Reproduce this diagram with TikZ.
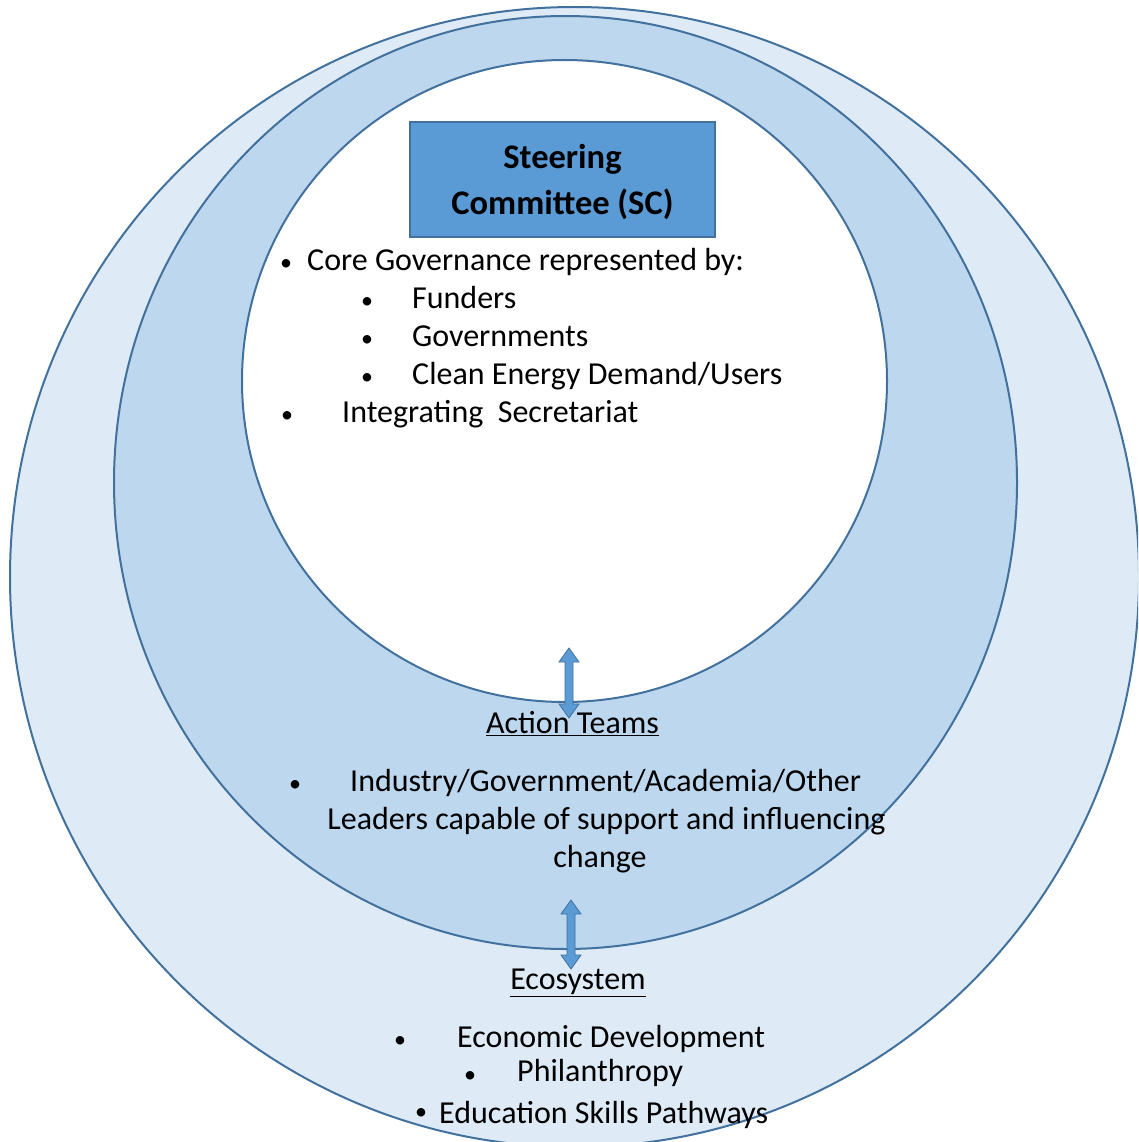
\documentclass[tikz,border=0pt]{standalone}
\usepackage{fontspec}
\setmainfont{Carlito}
\usetikzlibrary{shapes.geometric}
\definecolor{outerfill}{HTML}{DEEBF7}
\definecolor{midfill}{HTML}{BDD7EE}
\definecolor{edgeblue}{HTML}{41719C}
\definecolor{boxfill}{HTML}{5B9BD5}
\tikzset{
  ring/.style={draw=edgeblue, line width=2pt},
  txt/.style={anchor=mid west, inner sep=0pt, font=\fontsize{32}{38}\selectfont},
  ctxt/.style={anchor=mid, inner sep=0pt, font=\fontsize{32}{38}\selectfont},
  bul/.style={anchor=mid, inner sep=0pt, font=\fontsize{24}{30}\selectfont},
  blockarrow/.style={fill=boxfill, draw=edgeblue, line width=0.8pt, line join=miter}
}
\begin{document}
\begin{tikzpicture}[x=1pt,y=-1pt]
\useasboundingbox (0,0) rectangle (1138,1142);
\clip (0,0) rectangle (1138,1142);
% rings
\fill[white] (0,0) rectangle (1138,1142);
\draw[ring, fill=outerfill] (574.5,577) ellipse [x radius=564.5pt, y radius=570pt];
\draw[ring, fill=midfill] (565.5,482.5) ellipse [x radius=451.5pt, y radius=466.5pt];
\draw[ring, fill=white] (564.5,381) ellipse [x radius=322.5pt, y radius=321pt];
% steering committee box
\node[draw=edgeblue, line width=1.2pt, fill=boxfill, minimum width=305pt, minimum height=115pt, inner sep=0pt] (sc) at (562.5,179.5) {};
\node[inner sep=0pt, align=center, font=\bfseries\fontsize{34.5}{46}\selectfont] (sctext) at ([yshift=-2.5pt]sc.center)
      {Steering\\Committee (SC)};
% core list
\node[bul] (b1) at (286,268) {•};
\node[txt] (t1) at (307,268) {Core Governance represented by:};
\node[bul] (b2) at (367,306) {•};
\node[txt] (t2) at (412,306) {Funders};
\node[bul] (b3) at (367,344) {•};
\node[txt] (t3) at (412,344) {Governments};
\node[bul] (b4) at (367,382) {•};
\node[txt] (t4) at (412,382) {Clean Energy Demand/Users};
\node[bul] (b5) at (287,420) {•};
\node[txt] (t5) at (342,420) {Integrating\ \ Secretariat};
% arrow 1
\draw[blockarrow] (569,648) -- ++(10,14) -- ++(-6,0) -- (573,704) -- ++(6,0) -- (569,718) -- ++(-10,-14) -- ++(6,0) -- (565,662) -- ++(-6,0) -- cycle;
% action teams
\node[ctxt] (at) at (572.5,731) {\underline{Action Teams}};
\node[bul] (b6) at (295,789) {•};
\node[txt] (t6) at (350,789) {Industry/Government/Academia/Other};
\node[ctxt] (t7) at (606.5,827) {Leaders capable of support and influencing};
\node[ctxt] (t8) at (600,865) {change};
% arrow 2
\draw[blockarrow] (571,900) -- ++(10,14) -- ++(-6,0) -- (575,955) -- ++(6,0) -- (571,969) -- ++(-10,-14) -- ++(6,0) -- (567,914) -- ++(-6,0) -- cycle;
% ecosystem
\node[ctxt] (eco) at (578,987) {\underline{Ecosystem}};
\node[bul] (b7) at (400,1045) {•};
\node[txt] (t9) at (457,1045) {Economic Development};
\node[bul] (b8) at (470,1080) {•};
\node[txt] (t10) at (517,1079) {Philanthropy};
\node[bul] (b9) at (421,1117) {•};
\node[txt] (t11) at (439,1121) {Education Skills Pathways};
\end{tikzpicture}
\end{document}
